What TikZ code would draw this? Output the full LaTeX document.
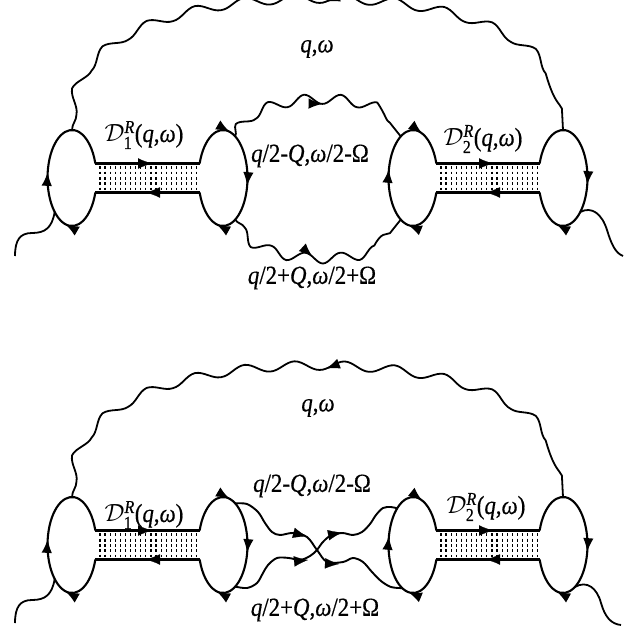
\documentclass[tikz,border=0pt]{standalone}
\usepackage{amsmath}
\usepackage{fontspec}
\setmainfont{Liberation Serif}[FakeStretch=0.88,FakeBold=0.5]
\usetikzlibrary{arrows.meta,decorations.pathmorphing,decorations.markings}

\tikzset{
  ftip/.tip={Latex[length=14pt,width=10.5pt]},
  bubble/.style={line width=2.1pt},
  rung/.style={line width=3.3pt},
  gdots/.style={line width=1.2pt, dash pattern=on 2.8pt off 2.5pt},
  photon/.style={line width=1.8pt, line join=round},
  fermion/.style={line width=1.9pt, line join=round},
  marks/.style={postaction={decorate,decoration={markings,#1}}},
  lab/.style={inner sep=0pt, font=\fontsize{26}{31}\selectfont},
  tipline/.style={line width=0.2pt, -ftip},
}

\newcommand{\bubR}[2]{\draw[bubble, marks={#2}] (#1) ++(-17.58:24.5pt and 48pt)
  arc[start angle=-17.58, end angle=-342.42, x radius=24.5pt, y radius=48pt];}
\newcommand{\bubL}[2]{\draw[bubble, marks={#2}] (#1) ++(162.42:24.5pt and 48pt)
  arc[start angle=162.42, end angle=-162.42, x radius=24.5pt, y radius=48pt];}
\newcommand{\ladderbox}[2]{%
  \foreach \i in {0,...,19}{\draw[gdots] (#1+4.6+5.1*\i,166.4) -- (#1+4.6+5.1*\i,190.5);}
  \draw[rung] (#1,163.5) -- (#2,163.5);
  \draw[rung] (#1,192.5) -- (#2,192.5);}

\newcommand{\diagramcore}{%
  \coordinate (B1) at (72,178);
  \coordinate (B2) at (223,178);
  \coordinate (B3) at (413,178);
  \coordinate (B4) at (563,178);
  \coordinate (B1top) at (72,130);
  \coordinate (B4top) at (563,130);
  \coordinate (B1sw) at (54.68,211.94);
  \bubR{B1}{mark=at position 0.25 with {\arrow{ftip}}, mark=at position 0.53 with {\arrow{ftip}}}
  \bubL{B2}{mark=at position 0.25 with {\arrow{ftip}}, mark=at position 0.54 with {\arrow{ftip}}, mark=at position 0.82 with {\arrow{ftip}}}
  \bubR{B3}{mark=at position 0.24 with {\arrow{ftip}}, mark=at position 0.545 with {\arrow{ftip}}, mark=at position 0.835 with {\arrow{ftip}}}
  \bubL{B4}{mark=at position 0.535 with {\arrow{ftip}}, mark=at position 0.82 with {\arrow{ftip}}}
  \ladderbox{95.35}{199.65}
  \ladderbox{436.35}{539.65}
  \draw[tipline] (139,163.5) -- (152,163.5);
  \draw[tipline] (159,192.5) -- (146,192.5);
  \draw[tipline] (480,163.5) -- (493,163.5);
  \draw[tipline] (499,192.5) -- (486,192.5);
  \draw[photon, marks={mark=at position 0.517 with {\arrowreversed{ftip}}}]
    decorate[decoration={snake,mirror,segment length=49.8pt,amplitude=4.5pt}]
    {(B1top) .. controls (72,44) and (190,11) .. (317.5,11) .. controls (445,11) and (563,44) .. (B4top)};
  \draw[photon] (B1sw) .. controls (52,228) and (45,233) .. (32,233)
    .. controls (20,233) and (15,240) .. (15,256);
}

\begin{document}
\begin{tikzpicture}[x=1pt,y=-1pt]
\useasboundingbox (0,0) rectangle (644,636);
\fill[white] (0,0) rectangle (644,636);

% ---------------- upper diagram ----------------
\begin{scope}
  \diagramcore
  \coordinate (B2ne) at (235.25,136.43);
  \coordinate (B3nw) at (400.75,136.43);
  \coordinate (B2se) at (235.25,219.57);
  \coordinate (B3sw) at (400.75,219.57);
  \coordinate (B4se) at (580.32,211.94);
  \draw[photon, marks={mark=at position 0.53 with {\arrow{ftip}}}]
    decorate[decoration={snake,segment length=36pt,amplitude=5pt}]
    {(B2ne) .. controls (255,96) and (381,96) .. (B3nw)};
  \draw[photon, marks={mark=at position 0.48 with {\arrow{ftip}}}]
    decorate[decoration={snake,segment length=36pt,amplitude=5pt}]
    {(B2se) .. controls (255,260) and (381,260) .. (B3sw)};
  \draw[photon] (B4se) .. controls (592,206) and (602,214) .. (607,230)
    .. controls (611,243) and (615,253) .. (623,256);
  \node[lab] (qwA) at (317,49) {\textit{q},\textit{ω}};
  \node[lab] (upA) at (310,156) {\textit{q}/2-\textit{Q},\textit{ω}/2-Ω};
  \node[lab] (dnA) at (312,278) {\textit{q}/2+\textit{Q},\textit{ω}/2+Ω};
  \node[lab] (dOneA) at (144,135) {$\mathcal{D}_{\textrm{1}}^{\textit{R}}$(\textit{q},\textit{ω})};
  \node[lab] (dTwoA) at (483,139) {$\mathcal{D}_{\textrm{2}}^{\textit{R}}$(\textit{q},\textit{ω})};
\end{scope}

% ---------------- lower diagram ----------------
\begin{scope}[shift={(0,367)}]
  \diagramcore
  \coordinate (C2ne) at (235.25,136.43);
  \coordinate (C3sw) at (402.2,221.1);
  \coordinate (C2se) at (235.25,219.57);
  \coordinate (C3nw) at (397.15,141.4);
  \coordinate (C4se) at (574.88,219.98);
  \draw[fermion] plot[smooth, tension=0.55] coordinates {(C2ne) (247,137) (258,145) (265,156)
    (272,165) (280,168) (293,166) (307,170) (317,183) (327,195) (343,195) (353,191) (363,195)
    (372,205) (381,214) (391,220) (C3sw)};
  \draw[fermion] plot[smooth, tension=0.55] coordinates {(C2se) (247,221) (257,216) (263,206)
    (268,198) (277,191) (289,191) (300,193) (310,189) (317,183) (322,176) (330,169) (342,166)
    (353,168) (362,165) (370,157) (376,148) (383,141) (391,140) (C3nw)};
  \draw[tipline] (294,166) -- (307,169.5);
  \draw[tipline] (295,194.3) -- (308,193);
  \draw[tipline] (329,168) -- (342,165.5);
  \draw[tipline] (326,196.4) -- (339,197);
  \draw[photon] (C4se) .. controls (587,213) and (597,221) .. (601,236)
    .. controls (605,250) and (611,257) .. (621,258);
  \node[lab] (qwB) at (318,41) {\textit{q},\textit{ω}};
  \node[lab] (upB) at (312,119) {\textit{q}/2-\textit{Q},\textit{ω}/2-Ω};
  \node[lab] (dnB) at (315,243) {\textit{q}/2+\textit{Q},\textit{ω}/2+Ω};
  \node[lab] (dOneB) at (144,148) {$\mathcal{D}_{\textrm{1}}^{\textit{R}}$(\textit{q},\textit{ω})};
  \node[lab] (dTwoB) at (486,140) {$\mathcal{D}_{\textrm{2}}^{\textit{R}}$(\textit{q},\textit{ω})};
\end{scope}
\end{tikzpicture}
\end{document}
